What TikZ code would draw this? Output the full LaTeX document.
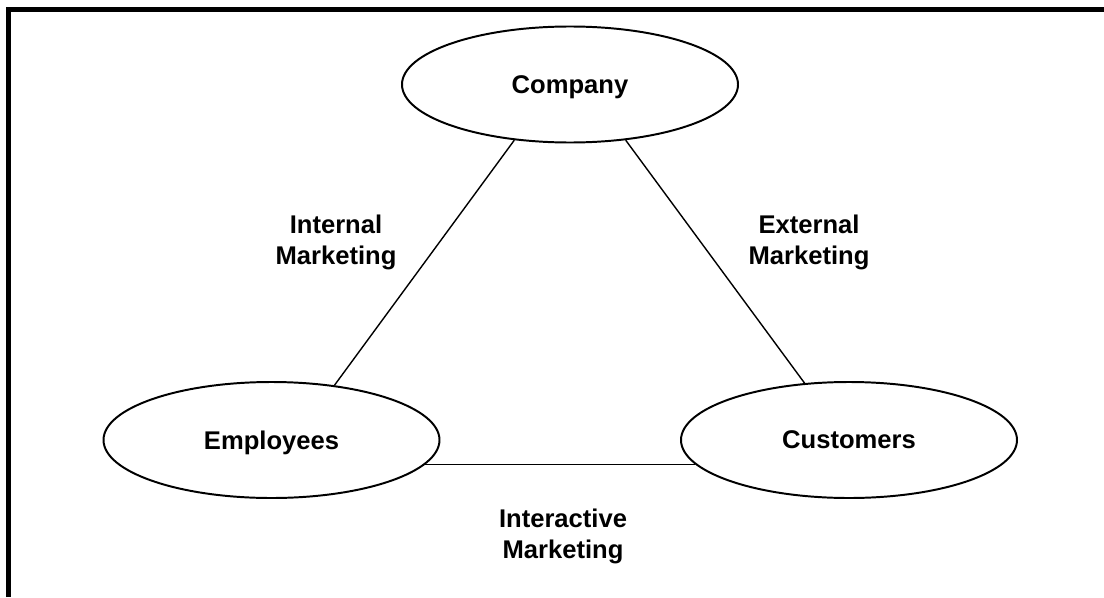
\documentclass[tikz,border=0pt]{standalone}
\usepackage{fontspec}
\setmainfont{Liberation Sans}
\usetikzlibrary{shapes.geometric}
\usetikzlibrary{positioning}
\tikzset{
    party/.style={draw, ellipse, line width=1.4pt, inner sep=0pt,
        minimum width=8.4cm, minimum height=2.9cm, text depth=0pt,
        font=\fontsize{18.2}{22}\selectfont\bfseries},
    link label/.style={align=center, inner sep=0pt,
        font=\fontsize{18.2}{22}\selectfont\bfseries},
    link/.style={draw, line width=1pt}
}
\begin{document}
\begin{tikzpicture}
    % Fix the page size
    \useasboundingbox (0,0) rectangle (27.6,-14.925);

    % Draw the frame (top and left side only)
    \draw[line width=3.5pt, line join=miter] (0.2125,-14.925) -- (0.2125,-0.2375) -- (27.6,-0.2375);

    % Draw the three parties
    \node[party] (company)   at (14.25,-2.1125) {Company};
    \node[party] (employees) at (6.7875,-11) {Employees};
    \node[party] (customers) at (21.225,-11) {Customers};

    % Draw the sides of the triangle
    \draw[link] (company.225) -- (employees.41);
    \draw[link] (company.315) -- (customers.128);
    \draw[link] (employees.-9.6) -- (customers.189.6);

    % Label the sides
    \node[link label] (internal)    at (8.4,-6.06)    {Internal\\Marketing};
    \node[link label] (external)    at (20.225,-6.06) {External\\Marketing};
    \node[link label] (interactive) at (14.075,-13.4) {Interactive\\Marketing};
\end{tikzpicture}
\end{document}
